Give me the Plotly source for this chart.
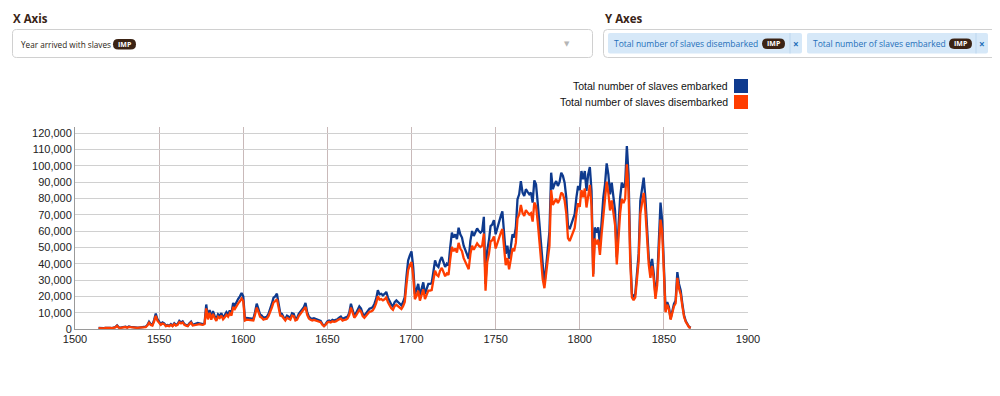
import plotly.graph_objects as go

# ---------------- data (thousands of people, one value per year) ----------------
start_year = 1514

embarked_k = [
    # 1514-1543
    0.6, 0.5, 0.6, 0.5, 0.7, 0.8, 0.6, 0.7, 0.6, 0.8, 1.2, 2.2, 1.0, 0.8, 1.0,
    1.2, 1.4, 1.0, 1.6, 1.3, 1.1, 0.9, 1.0, 0.8, 0.9, 1.0, 0.9, 1.1, 1.4, 2.5,
    # 1544-1577
    4.5, 3.0, 2.5, 5.5, 9.5, 6.0, 4.5, 3.0, 4.0, 3.5, 2.0, 2.5, 2.0, 3.0, 2.0, 3.5, 2.5,
    3.0, 5.0, 4.0, 4.7, 3.0, 2.5, 2.0, 3.5, 4.5, 2.5, 2.8, 3.0, 3.7, 3.5, 3.2, 3.0, 3.5,
    # 1578-1600
    15.0, 7.0, 11.7, 6.8, 11.0, 8.0, 6.0, 9.0, 8.0, 9.7, 7.0, 8.5, 10.3, 8.9, 11.3,
    9.7, 15.9, 14.4, 17.0, 18.5, 20.0, 22.0, 20.0,
    # 1601-1650
    6.2, 6.8, 6.6, 6.8, 6.5, 6.2, 10.3, 15.5, 12.4, 8.9,
    8.2, 6.8, 7.2, 7.5, 9.3, 11.8, 15.5, 19.2, 20.0, 21.6,
    14.4, 9.7, 9.3, 7.2, 6.2, 8.2, 7.5, 6.8, 9.7, 9.3,
    6.2, 6.8, 9.3, 11.0, 12.0, 13.4, 15.9, 10.3, 7.6, 6.6,
    6.2, 6.6, 6.2, 5.8, 5.2, 5.0, 3.1, 2.0, 3.1, 4.7,
    # 1651-1700
    5.2, 4.7, 5.6, 5.2, 5.6, 6.0, 7.0, 7.6, 6.2, 6.6,
    6.8, 7.6, 10.0, 15.5, 11.8, 8.2, 9.7, 11.8, 13.8, 12.5,
    9.3, 8.2, 9.7, 11.0, 12.4, 12.8, 13.4, 15.5, 18.6, 23.7,
    21.2, 21.6, 20.6, 21.5, 22.7, 19.2, 16.5, 15.0, 13.8, 16.5,
    17.5, 16.5, 15.5, 14.5, 16.5, 19.6, 32.0, 42.0, 45.0, 47.5,
    # 1701-1750
    38.0, 21.5, 24.0, 27.6, 20.5, 24.0, 28.6, 21.5, 24.0, 27.6,
    27.6, 28.0, 35.0, 42.0, 39.0, 38.0, 42.0, 44.0, 41.0, 38.0,
    40.0, 39.0, 50.0, 59.0, 56.0, 58.0, 55.0, 62.0, 58.0, 56.0,
    51.0, 48.0, 46.0, 43.0, 54.0, 60.0, 57.0, 59.0, 61.6, 60.0,
    59.0, 60.0, 68.7, 27.6, 48.0, 54.0, 63.0, 64.0, 66.7, 58.0,
    # 1751-1800
    62.0, 66.0, 69.0, 72.0, 60.0, 46.0, 51.0, 43.0, 50.0, 58.0,
    56.0, 62.0, 79.5, 82.5, 90.6, 83.5, 81.5, 85.6, 84.0, 82.5,
    83.5, 77.4, 91.0, 88.6, 77.4, 64.0, 50.0, 35.8, 27.0, 38.0,
    50.0, 60.0, 95.7, 85.6, 88.6, 90.6, 87.6, 90.0, 95.7, 93.7,
    89.6, 80.5, 63.2, 61.2, 64.2, 68.0, 70.3, 80.5, 87.6, 85.0,
    # 1801-1850
    96.7, 91.7, 96.7, 84.6, 94.7, 99.2, 84.6, 33.7, 62.2, 59.0,
    62.2, 51.0, 66.3, 80.5, 88.6, 101.4, 94.7, 82.5, 89.6, 81.5,
    72.4, 43.9, 65.2, 80.5, 89.6, 86.6, 89.6, 112.0, 94.7, 46.0,
    21.5, 19.5, 21.5, 31.7, 46.0, 78.5, 85.6, 92.7, 80.5, 60.2,
    43.9, 34.8, 42.9, 33.7, 20.5, 29.7, 52.0, 77.4, 66.3, 33.7,
    # 1851-1866
    11.4, 16.5, 13.4, 6.3, 10.4, 15.4, 17.5, 34.8, 27.6, 23.6, 15.4, 8.3, 4.9, 2.8, 1.2, 0.8,
]

disembarked_k = [
    # 1514-1543
    0.5, 0.4, 0.5, 0.4, 0.6, 0.7, 0.5, 0.6, 0.5, 0.7, 1.0, 1.9, 0.8, 0.7, 0.8,
    1.0, 1.2, 0.8, 1.3, 1.1, 0.9, 0.8, 0.8, 0.7, 0.8, 0.8, 0.8, 0.9, 1.2, 2.1,
    # 1544-1577
    3.8, 2.5, 2.1, 4.6, 8.0, 5.1, 3.8, 2.5, 3.4, 3.0, 1.7, 2.1, 1.7, 2.5, 1.7, 3.0, 2.1,
    2.5, 4.2, 3.4, 4.0, 2.5, 2.1, 1.7, 3.0, 3.8, 2.1, 2.4, 2.5, 3.1, 3.0, 2.7, 2.5, 3.0,
    # 1578-1600
    12.6, 5.9, 9.9, 5.7, 9.3, 6.7, 5.0, 7.6, 6.7, 8.2, 5.9, 7.2, 8.7, 7.5, 9.6,
    8.2, 13.5, 12.2, 14.4, 15.7, 17.0, 18.7, 17.0,
    # 1601-1650
    5.2, 5.7, 5.6, 5.7, 5.5, 5.2, 8.7, 13.1, 10.5, 7.5,
    6.9, 5.7, 6.1, 6.3, 7.9, 10.0, 13.1, 16.3, 17.0, 18.3,
    12.2, 8.2, 7.9, 6.1, 5.2, 6.9, 6.3, 5.7, 8.2, 7.9,
    5.2, 5.7, 7.9, 9.3, 10.2, 11.4, 13.5, 8.7, 6.4, 5.6,
    5.2, 5.6, 5.2, 4.9, 4.4, 4.2, 2.6, 1.7, 2.6, 4.0,
    # 1651-1700
    4.4, 4.0, 4.7, 4.4, 4.7, 5.1, 5.9, 6.4, 5.2, 5.6,
    5.7, 6.4, 8.5, 13.1, 10.0, 6.9, 8.2, 10.0, 11.7, 10.6,
    7.9, 6.9, 8.2, 9.3, 10.5, 10.8, 11.4, 13.1, 15.8, 20.1,
    18.0, 18.3, 17.5, 18.2, 19.3, 16.3, 14.0, 12.7, 11.7, 14.0,
    14.8, 14.0, 13.1, 12.3, 14.0, 16.6, 27.2, 36.0, 39.0, 41.0,
    # 1701-1750
    32.5, 18.3, 20.4, 23.5, 17.4, 20.4, 24.3, 18.3, 20.4, 23.5,
    23.5, 23.8, 29.8, 35.7, 33.2, 32.3, 35.7, 37.4, 34.9, 32.3,
    34.0, 33.2, 42.5, 50.2, 47.6, 49.3, 46.8, 52.7, 49.3, 47.6,
    43.4, 40.8, 39.1, 36.6, 45.9, 51.0, 48.5, 50.2, 52.4, 51.0,
    50.2, 51.0, 58.4, 23.5, 40.8, 45.9, 53.6, 54.4, 56.7, 49.3,
    # 1751-1800
    52.7, 56.1, 58.7, 61.2, 51.0, 39.1, 43.4, 36.6, 42.5, 49.3,
    47.6, 52.7, 67.6, 70.1, 76.0, 71.0, 69.3, 72.8, 71.4, 70.1,
    71.0, 65.8, 77.4, 75.3, 65.8, 54.4, 42.5, 30.4, 25.0, 32.3,
    42.5, 51.0, 85.0, 76.0, 78.0, 79.7, 77.1, 79.2, 83.5, 82.5,
    78.8, 70.8, 55.6, 53.9, 56.5, 59.8, 61.9, 70.8, 77.1, 74.8,
    # 1801-1850
    85.1, 80.7, 86.0, 74.4, 83.3, 88.3, 75.3, 32.0, 55.4, 51.9,
    54.7, 45.4, 58.3, 70.8, 78.0, 90.2, 83.3, 72.6, 78.8, 71.7,
    63.7, 39.5, 57.4, 70.8, 79.7, 77.1, 79.7, 100.8, 84.3, 41.4,
    19.4, 17.6, 19.4, 28.5, 41.4, 70.7, 77.0, 83.4, 72.5, 54.2,
    39.5, 31.3, 38.6, 30.3, 18.5, 26.7, 46.8, 67.0, 59.7, 30.3,
    # 1851-1866
    10.3, 14.9, 12.1, 5.7, 9.4, 13.9, 15.8, 31.3, 24.8, 21.2, 13.9, 7.5, 4.4, 2.5, 1.1, 0.7,
]

series_names = ["Total number of slaves embarked", "Total number of slaves disembarked"]
x_ticks = [1500, 1550, 1600, 1650, 1700, 1750, 1800, 1850, 1900]
y_ticks = list(range(0, 120001, 10000))

years_e = list(range(start_year, start_year + len(embarked_k)))
years_d = list(range(start_year, start_year + len(disembarked_k)))
embarked = [v * 1000 for v in embarked_k]
disembarked = [v * 1000 for v in disembarked_k]

# ---------------- styling / geometry (page pixel coordinates) ----------------
OFF = 8                      # default body margin of the html page
W, H = 984, 380              # figure size so that page fits the 1000x396 window
L, R, T, B = 75, 748, 127, 329
BLUE = "#0e3a8e"
ORANGE = "#ff3d00"
FONT = "Liberation Sans"
UI_FONT = "Open Sans"


def px(x):
    return (x - L) / (R - L)


def py(y):
    return (B - y) / (B - T)


def rrect_path(x0, y0, x1, y1, r):
    pts = [
        ("M", [(x0 + r, y0)]), ("L", [(x1 - r, y0)]), ("Q", [(x1, y0), (x1, y0 + r)]),
        ("L", [(x1, y1 - r)]), ("Q", [(x1, y1), (x1 - r, y1)]), ("L", [(x0 + r, y1)]),
        ("Q", [(x0, y1), (x0, y1 - r)]), ("L", [(x0, y0 + r)]), ("Q", [(x0, y0), (x0 + r, y0)]),
    ]
    s = ""
    for cmd, ps in pts:
        s += cmd + " " + " ".join(f"{px(a):.5f},{py(b):.5f}" for a, b in ps) + " "
    return s + "Z"


fig = go.Figure()
fig.add_trace(go.Scatter(x=years_e, y=embarked, mode="lines", name=series_names[0],
                         line=dict(color=BLUE, width=2.3), showlegend=False))
fig.add_trace(go.Scatter(x=years_d, y=disembarked, mode="lines", name=series_names[1],
                         line=dict(color=ORANGE, width=2.3), showlegend=False))

shapes = []
annotations = []

# ---- X Axis control ----
annotations.append(dict(text="<b>X Axis</b>", x=px(11), y=py(18), xref="paper", yref="paper",
                        xanchor="left", yanchor="middle", showarrow=False,
                        font=dict(family=UI_FONT, size=11.5, color="#3a2417")))
shapes.append(dict(type="path", path=rrect_path(12.5, 29.5, 592.5, 57.5, 4), xref="paper", yref="paper",
                   line=dict(color="#d0d0d0", width=1), fillcolor="white", layer="above"))
annotations.append(dict(text="Year arrived with slaves", x=px(19), y=py(44), xref="paper", yref="paper",
                        xanchor="left", yanchor="middle", showarrow=False,
                        font=dict(family=UI_FONT, size=8.2, color="#2b1d14")))
shapes.append(dict(type="path", path=rrect_path(113, 39, 136, 49.5, 5.2), xref="paper", yref="paper",
                   line=dict(width=0), fillcolor="#3b2314", layer="above"))
annotations.append(dict(text="<b>IMP</b>", x=px(124.5), y=py(44.3), xref="paper", yref="paper",
                        xanchor="center", yanchor="middle", showarrow=False,
                        font=dict(family=UI_FONT, size=7, color="white")))
annotations.append(dict(text="▼", x=px(567), y=py(44), xref="paper", yref="paper",
                        xanchor="center", yanchor="middle", showarrow=False,
                        font=dict(family="DejaVu Sans", size=7, color="#b5b5b5")))

# ---- Y Axes control ----
annotations.append(dict(text="<b>Y Axes</b>", x=px(603), y=py(18), xref="paper", yref="paper",
                        xanchor="left", yanchor="middle", showarrow=False,
                        font=dict(family=UI_FONT, size=11.5, color="#3a2417")))
shapes.append(dict(type="path", path=rrect_path(603.5, 29.5, 1010, 57.5, 4), xref="paper", yref="paper",
                   line=dict(color="#d0d0d0", width=1), fillcolor="white", layer="above"))
chips = [
    (608, 802, "Total number of slaves disembarked", 762, 785, 790, 796),
    (807, 988, "Total number of slaves embarked", 949, 972, 976, 982),
]
for cx0, cx1, label, bx0, bx1, sep, xx in chips:
    shapes.append(dict(type="path", path=rrect_path(cx0, 33, cx1, 53.5, 2), xref="paper", yref="paper",
                       line=dict(width=0), fillcolor="#d6e8f8", layer="above"))
    shapes.append(dict(type="line", x0=px(sep), x1=px(sep), y0=py(33), y1=py(53.5), xref="paper",
                       yref="paper", line=dict(color="#bcd6ee", width=1), layer="above"))
    annotations.append(dict(text=label, x=px(cx0 + 4), y=py(43.5), xref="paper", yref="paper",
                            xanchor="left", yanchor="middle", showarrow=False,
                            font=dict(family=UI_FONT, size=8.5, color="#1f6fb8")))
    shapes.append(dict(type="path", path=rrect_path(bx0, 38.5, bx1, 49, 5.2), xref="paper", yref="paper",
                       line=dict(width=0), fillcolor="#3b2314", layer="above"))
    annotations.append(dict(text="<b>IMP</b>", x=px((bx0 + bx1) / 2), y=py(43.8), xref="paper",
                            yref="paper", xanchor="center", yanchor="middle", showarrow=False,
                            font=dict(family=UI_FONT, size=7, color="white")))
    annotations.append(dict(text="<b>×</b>", x=px(xx), y=py(43.5), xref="paper", yref="paper",
                            xanchor="center", yanchor="middle", showarrow=False,
                            font=dict(family=UI_FONT, size=10, color="#1f6fb8")))

# ---- legend (text left of colour box) ----
for i, (name, col) in enumerate(zip(series_names, [BLUE, ORANGE])):
    yc = 86 + 16 * i
    annotations.append(dict(text=name, x=px(730), y=py(yc), xref="paper", yref="paper",
                            xanchor="right", yanchor="middle", showarrow=False,
                            font=dict(family=FONT, size=10.5, color="#111")))
    shapes.append(dict(type="rect", x0=px(734), x1=px(748), y0=py(yc - 7), y1=py(yc + 7),
                       xref="paper", yref="paper", line=dict(width=0), fillcolor=col, layer="above"))

fig.update_layout(
    width=W, height=H,
    margin=dict(l=L - OFF, r=W + OFF - R, t=T - OFF, b=H + OFF - B, pad=0),
    paper_bgcolor="white", plot_bgcolor="white",
    showlegend=False,
    shapes=shapes, annotations=annotations,
    xaxis=dict(range=[1500, 1900], tickvals=x_ticks, ticktext=[str(t) for t in x_ticks],
               showgrid=True, gridcolor="#c9b9b9", gridwidth=1,
               showline=True, linecolor="#9a9a9a", linewidth=1, zeroline=False,
               ticks="", tickfont=dict(family=FONT, size=11, color="#222"), fixedrange=True),
    yaxis=dict(range=[0, 123700], tickvals=y_ticks, ticktext=[f"{v:,}" for v in y_ticks],
               showgrid=True, gridcolor="#d0d0d0", gridwidth=1,
               showline=True, linecolor="#9a9a9a", linewidth=1, zeroline=False,
               ticks="", tickfont=dict(family=FONT, size=11, color="#222"), fixedrange=True),
)

fig.write_html("out.html")
